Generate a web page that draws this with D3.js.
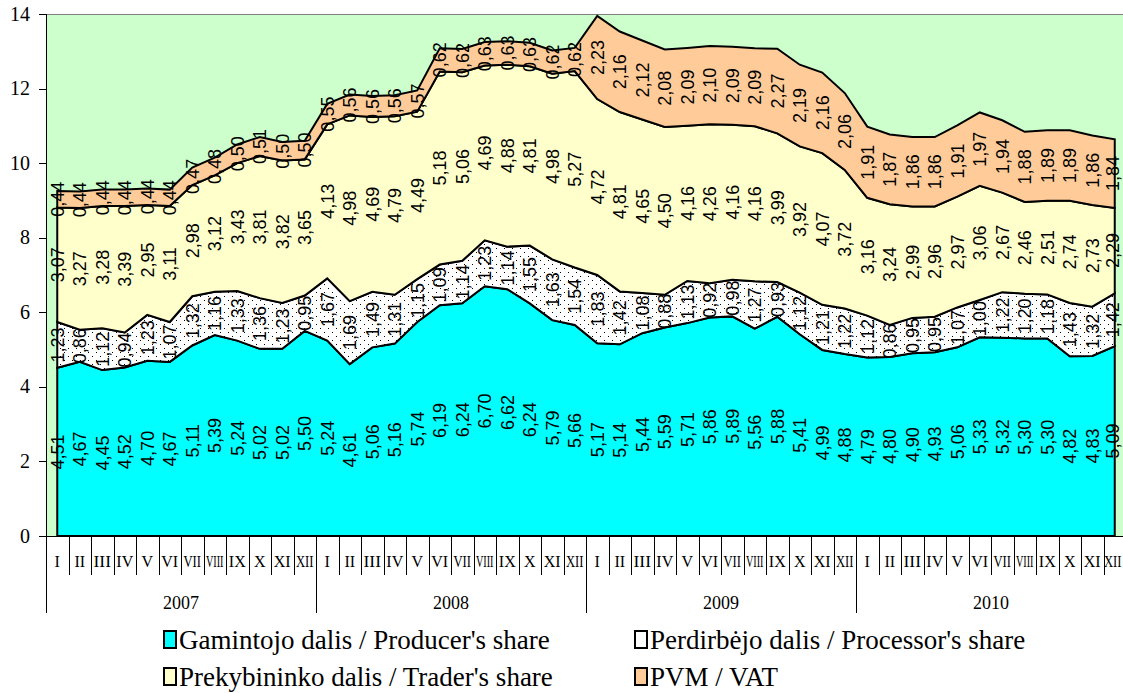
<!DOCTYPE html>
<html><head><meta charset="utf-8">
<script src="https://cdn.jsdelivr.net/npm/d3@7/dist/d3.min.js"></script>
<style>
html,body{margin:0;padding:0;background:#fff;}
svg{display:block;}
.serif{font-family:"Liberation Serif","Times New Roman",serif;}
.sans{font-family:"Liberation Sans",Arial,sans-serif;}
</style></head>
<body><svg id="c" width="1123" height="693"></svg>
<script>
const years = ["2007","2008","2009","2010"];
const months = ["I","II","III","IV","V","VI","VII","VIII","IX","X","XI","XII"];
const producer = [4.51,4.67,4.45,4.52,4.70,4.67,5.11,5.39,5.24,5.02,5.02,5.50,
  5.24,4.61,5.06,5.16,5.74,6.19,6.24,6.70,6.62,6.24,5.79,5.66,
  5.17,5.14,5.44,5.59,5.71,5.86,5.89,5.56,5.88,5.41,4.99,4.88,
  4.79,4.80,4.90,4.93,5.06,5.33,5.32,5.30,5.30,4.82,4.83,5.09];
const processor = [1.23,0.86,1.12,0.94,1.23,1.07,1.32,1.16,1.33,1.36,1.23,0.95,
  1.67,1.69,1.49,1.31,1.15,1.09,1.14,1.23,1.14,1.55,1.63,1.54,
  1.83,1.42,1.08,0.88,1.13,0.92,0.98,1.27,0.93,1.12,1.21,1.22,
  1.12,0.86,0.95,0.95,1.07,1.00,1.22,1.20,1.18,1.43,1.32,1.42];
const trader = [3.07,3.27,3.28,3.39,2.95,3.11,2.98,3.12,3.43,3.81,3.82,3.65,
  4.13,4.98,4.69,4.79,4.49,5.18,5.06,4.69,4.88,4.81,4.98,5.27,
  4.72,4.81,4.65,4.50,4.16,4.26,4.16,4.16,3.99,3.92,4.07,3.72,
  3.16,3.24,2.99,2.96,2.97,3.06,2.67,2.46,2.51,2.74,2.73,2.29];
const vat = [0.44,0.44,0.44,0.44,0.44,0.44,0.47,0.48,0.50,0.51,0.50,0.50,
  0.55,0.56,0.56,0.56,0.57,0.62,0.62,0.63,0.63,0.63,0.62,0.62,
  2.23,2.16,2.12,2.08,2.09,2.10,2.09,2.09,2.27,2.19,2.16,2.06,
  1.91,1.87,1.86,1.86,1.91,1.97,1.94,1.88,1.89,1.89,1.86,1.84];
const seriesNames = ["Gamintojo dalis / Producer's share","Perdirbėjo dalis / Processor's share","Prekybininko dalis / Trader's share","PVM / VAT"];
const yTicks = [0,2,4,6,8,10,12,14];

const svg = d3.select("#c");
const L = 46, R = 1126, T = 14, B = 536;
const idx = d3.range(producer.length);
const x = d3.scaleBand().domain(idx).range([L, R]);
const bw = x.bandwidth();
const cx = i => x(i) + bw/2;
const y = d3.scaleLinear().domain([0,14]).range([B, T]);

const defs = svg.append("defs");
const pat = defs.append("pattern").attr("id","dots").attr("patternUnits","userSpaceOnUse").attr("width",8).attr("height",8);
pat.append("rect").attr("width",8).attr("height",8).attr("fill","#fff");
pat.append("rect").attr("x",0).attr("y",0).attr("width",1).attr("height",1).attr("fill","#000");
pat.append("rect").attr("x",4).attr("y",4).attr("width",1).attr("height",1).attr("fill","#000");

// plot background
svg.append("rect").attr("x",L).attr("y",T).attr("width",1123-L).attr("height",B-T).attr("fill","#CCFFCC");
svg.append("line").attr("x1",L).attr("x2",1123).attr("y1",T+0.5).attr("y2",T+0.5).attr("stroke","#808080").attr("stroke-width",1);

const table = idx.map(i => ({i, p:producer[i], pr:processor[i], t:trader[i], v:vat[i]}));
const stack = d3.stack().keys(["p","pr","t","v"]);
const layers = stack(table);
const fills = ["#00FFFF","url(#dots)","#FFFFCC","#FFCC99"];
const swatchFills = ["#00FFFF","#FFFFFF","#FFFFCC","#FFCC99"];
const area = d3.area().x(d => cx(d.data.i)).y0(d => y(d[0])).y1(d => y(d[1]));

layers.forEach((ly, k) => {
  svg.append("path").attr("d", area(ly)).attr("fill", fills[k]).attr("stroke","#000").attr("stroke-width",2).attr("stroke-linejoin","miter");
});

// labels
const fmt = v => v.toFixed(2).replace(".", ",");
layers.forEach((ly, k) => {
  svg.append("g").attr("class","sans").selectAll("text").data(ly).join("text")
    .attr("transform", d => `translate(${Math.min(cx(d.data.i), 1113)},${y((d[0]+d[1])/2)}) rotate(-90)`)
    .attr("text-anchor","middle").attr("dy","0.35em")
    .attr("font-size",18)
    .attr("fill","#000")
    .text(d => fmt(d[1]-d[0]));
});

// y axis
svg.append("line").attr("x1",L+0.5).attr("x2",L+0.5).attr("y1",T).attr("y2",613).attr("stroke","#000");
const yg = svg.append("g").attr("class","serif");
yg.selectAll("line").data(yTicks).join("line")
  .attr("x1",L-7).attr("x2",L).attr("y1",d=>Math.round(y(d))+0.5).attr("y2",d=>Math.round(y(d))+0.5).attr("stroke","#000");
yg.selectAll("text").data(yTicks).join("text")
  .attr("x",L-16).attr("y",d=>y(d)).attr("dy","0.33em").attr("text-anchor","end")
  .attr("font-size",20)
  .text(d=>d);

// x axis
svg.append("line").attr("x1",L).attr("x2",1123).attr("y1",B+0.5).attr("y2",B+0.5).attr("stroke","#000");
const xg = svg.append("g").attr("class","serif");
xg.selectAll("line").data(idx.slice(1)).join("line")
  .attr("x1",i=>Math.round(x(i))+0.5).attr("x2",i=>Math.round(x(i))+0.5)
  .attr("y1",B).attr("y2",i=> i%12===0 ? 613 : 575).attr("stroke","#000");
xg.selectAll("text").data(idx).join("text")
  .attr("x",i=> i===idx.length-1 ? cx(i)-2 : cx(i)).attr("y",567).attr("text-anchor","middle")
  .attr("font-size",16)
  .attr("textLength", i => months[i%12].length>2 ? bw-5 : null)
  .attr("lengthAdjust","spacingAndGlyphs")
  .text(i=>months[i%12]);
svg.append("g").attr("class","serif").selectAll("text").data(years).join("text")
  .attr("x",(d,j)=> (x(j*12) + (j*12+12<idx.length ? x(j*12+12) : R))/2).attr("y",609).attr("text-anchor","middle")
  .attr("font-size",18)
  .text(d=>d);

// legend
const legPos = [[163,640],[634,640],[163,677],[634,677]];
const lg = svg.append("g").attr("class","serif");
seriesNames.forEach((n,k) => {
  const [lx,ly] = legPos[k];
  lg.append("rect").attr("x",lx+1).attr("y",ly-9).attr("width",12).attr("height",17).attr("fill",swatchFills[k]).attr("stroke","#000").attr("stroke-width",2);
  lg.append("text").attr("x",lx+16).attr("y",ly+9).attr("font-size",27).text(n);
});
</script></body></html>
